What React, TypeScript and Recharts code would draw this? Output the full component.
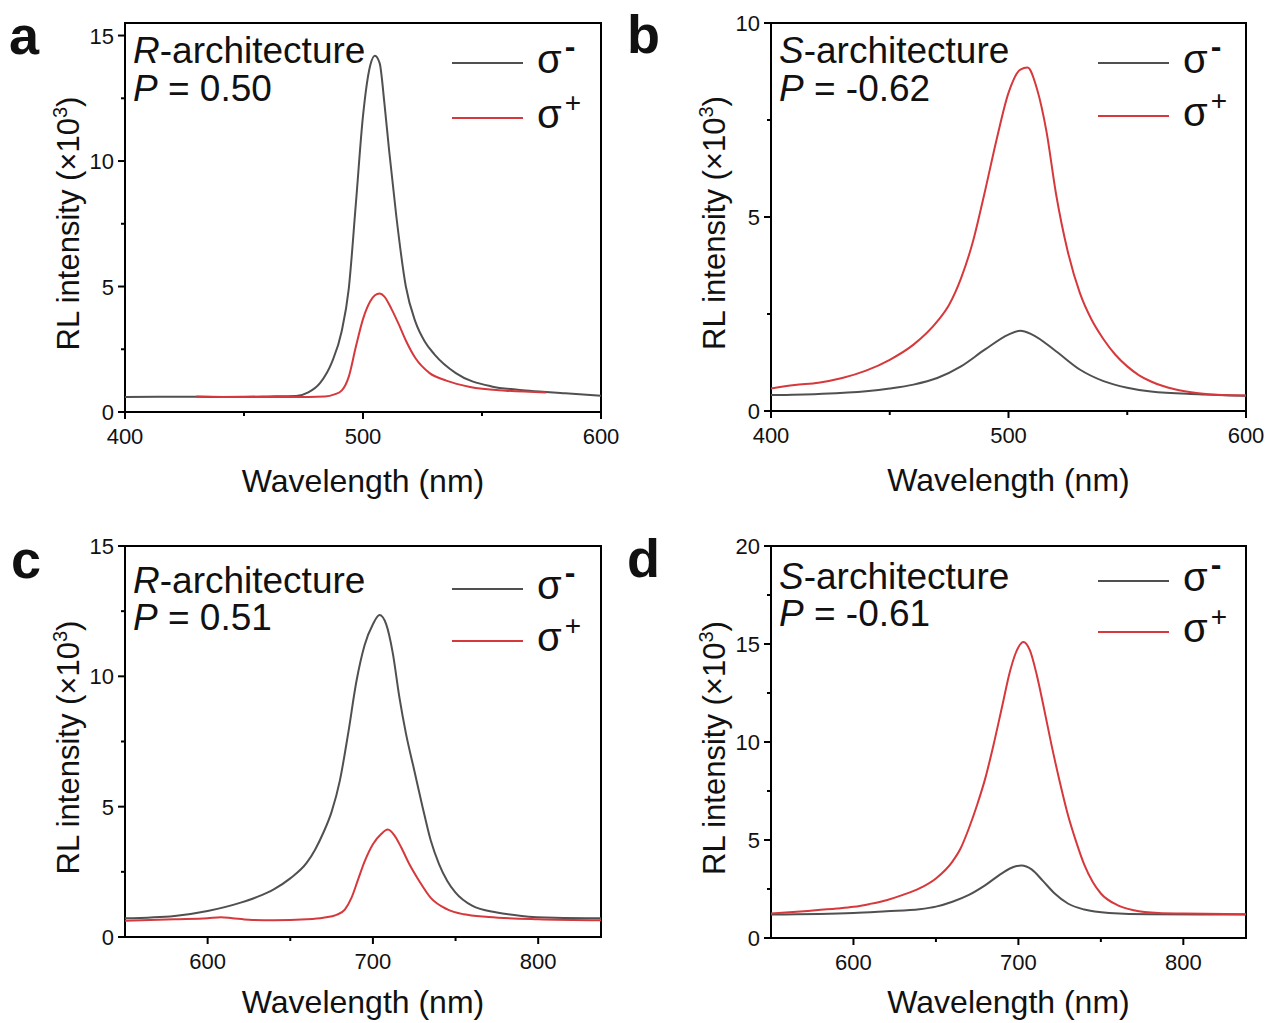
import { Legend, Line, LineChart, ReferenceArea, XAxis, YAxis } from "recharts";

const FONT = '"Liberation Sans", Arial, Helvetica, sans-serif';
const GRAY = "#505050";
const RED = "#d6383b";

// panel a: R-architecture, 400-600 nm
const aMinusWl = [400, 420, 440, 460, 472, 477, 482, 487, 491, 494, 497, 500, 503, 505, 507, 509, 511, 514, 518, 522, 526, 530, 539, 554, 570, 585, 600];
const aMinusInt = [0.6, 0.61, 0.6, 0.62, 0.64, 0.78, 1.16, 2.0, 3.2, 4.9, 8.3, 11.8, 13.8, 14.2, 13.9, 12.3, 10.4, 7.8, 5.0, 3.6, 2.8, 2.3, 1.55, 1.02, 0.85, 0.75, 0.65];
const aPlusWl = [430, 450, 470, 484, 488, 491, 494, 497, 500, 503, 505, 507, 509, 512, 515, 518, 522, 528, 535, 545, 560, 577];
const aPlusInt = [0.62, 0.6, 0.6, 0.62, 0.7, 0.85, 1.4, 2.6, 3.7, 4.4, 4.65, 4.72, 4.6, 4.1, 3.5, 2.85, 2.15, 1.55, 1.25, 1.0, 0.85, 0.78];

// panel b: S-architecture, 400-600 nm
const bMinusWl = [400, 420, 440, 450, 460, 470, 480, 490, 500, 505, 510, 520, 530, 540, 550, 560, 580, 600];
const bMinusInt = [0.41, 0.44, 0.51, 0.58, 0.68, 0.85, 1.15, 1.58, 1.97, 2.07, 1.97, 1.54, 1.07, 0.77, 0.6, 0.5, 0.43, 0.39];
const bPlusWl = [400, 410, 420, 430, 440, 450, 460, 470, 475, 480, 485, 490, 495, 500, 505, 508, 512, 516, 520, 525, 530, 535, 540, 545, 550, 555, 560, 570, 580, 590, 600];
const bPlusInt = [0.58, 0.67, 0.73, 0.85, 1.04, 1.32, 1.71, 2.31, 2.74, 3.42, 4.36, 5.64, 7.0, 8.2, 8.8, 8.85, 8.3, 7.2, 5.6, 4.1, 3.05, 2.35, 1.85, 1.45, 1.15, 0.92, 0.76, 0.56, 0.46, 0.41, 0.4];

// panel c: R-architecture, 550-840 nm
const cMinusWl = [550, 580, 600, 620, 630, 640, 650, 660, 665, 670, 675, 680, 685, 690, 695, 700, 704, 708, 712, 716, 720, 725, 730, 735, 740, 745, 750, 760, 775, 790, 810, 838];
const cMinusInt = [0.72, 0.81, 1.0, 1.32, 1.54, 1.83, 2.25, 2.85, 3.35, 4.0, 4.8, 6.0, 7.8, 9.8, 11.2, 12.0, 12.35, 12.0, 10.9, 9.2, 7.8, 6.4, 5.0, 3.7, 2.8, 2.15, 1.7, 1.2, 0.94, 0.81, 0.74, 0.72];
const cPlusWl = [550, 580, 600, 608, 615, 625, 640, 660, 670, 678, 683, 687, 691, 695, 700, 705, 709, 713, 717, 722, 728, 735, 745, 755, 770, 800, 838];
const cPlusInt = [0.62, 0.68, 0.72, 0.76, 0.72, 0.66, 0.64, 0.68, 0.74, 0.85, 1.05, 1.5, 2.2, 2.9, 3.56, 3.95, 4.12, 3.9, 3.45, 2.8, 2.15, 1.5, 1.06, 0.87, 0.77, 0.68, 0.64];

// panel d: S-architecture, 550-840 nm
const dMinusWl = [550, 600, 620, 640, 650, 660, 670, 680, 690, 697, 702, 708, 715, 722, 730, 740, 755, 780, 838];
const dMinusInt = [1.2, 1.28, 1.37, 1.47, 1.6, 1.85, 2.2, 2.7, 3.3, 3.62, 3.7, 3.5, 2.9, 2.27, 1.76, 1.45, 1.28, 1.21, 1.2];
const dPlusWl = [550, 570, 590, 600, 610, 620, 630, 640, 650, 660, 665, 670, 675, 680, 685, 690, 695, 700, 703, 707, 711, 715, 720, 725, 730, 735, 740, 745, 750, 760, 770, 785, 800, 838];
const dPlusInt = [1.25, 1.37, 1.5, 1.59, 1.74, 1.93, 2.2, 2.53, 3.04, 3.9, 4.58, 5.6, 6.8, 8.17, 9.88, 11.76, 13.64, 14.84, 15.1, 14.67, 13.47, 11.93, 9.88, 8.0, 6.29, 4.92, 3.73, 2.87, 2.27, 1.68, 1.42, 1.28, 1.25, 1.21];

const shortRangeTicks = [400, 450, 500, 550, 600];
const shortRangeMajor = [400, 500, 600];
const longRangeTicks = [600, 650, 700, 750, 800];
const longRangeMajor = [600, 700, 800];
const yTicks15 = [0, 2.5, 5, 7.5, 10, 12.5, 15];
const yTicks10 = [0, 2.5, 5, 7.5, 10];
const yTicks20 = [0, 2.5, 5, 7.5, 10, 12.5, 15, 17.5, 20];
const yMajor = [0, 5, 10, 15, 20];
const legendOrder = ["σ-", "σ+"];

const toPoints = (wl: number[], val: number[]) => wl.map((w, i) => ({ wl: w, intensity: val[i] }));

interface PanelConfig {
  letter: string;
  letterX: number;
  letterY: number;
  arch: string;
  pValue: string;
  ox: number;
  oy: number;
  width: number;
  height: number;
  plotW: number;
  plotH: number;
  xDomain: [number, number];
  xTicks: number[];
  xMajor: number[];
  yMax: number;
  yTicks: number[];
  minus: { wl: number; intensity: number }[];
  plus: { wl: number; intensity: number }[];
  annotY1: number;
  annotY2: number;
  legendTop: number;
  legendRow: number;
  titleGap: number;
}

const PLOT_LEFT = 125;
const PLOT_TOP = 23;
const Y_AXIS_W = 60;
const X_AXIS_H = 40;

const panels: PanelConfig[] = [
  {
    letter: "a", letterX: 9, letterY: 54, arch: "R", pValue: " = 0.50",
    ox: 0, oy: 0, width: 640, height: 510, plotW: 476, plotH: 389,
    xDomain: [400, 600], xTicks: shortRangeTicks, xMajor: shortRangeMajor,
    yMax: 15.5, yTicks: yTicks15,
    minus: toPoints(aMinusWl, aMinusInt), plus: toPoints(aPlusWl, aPlusInt),
    annotY1: 63, annotY2: 101, legendTop: 35, legendRow: 55, titleGap: 80,
  },
  {
    letter: "b", letterX: 627, letterY: 53, arch: "S", pValue: " = -0.62",
    ox: 646, oy: 0, width: 623, height: 510, plotW: 475, plotH: 388,
    xDomain: [400, 600], xTicks: shortRangeTicks, xMajor: shortRangeMajor,
    yMax: 10, yTicks: yTicks10,
    minus: toPoints(bMinusWl, bMinusInt), plus: toPoints(bPlusWl, bPlusInt),
    annotY1: 63, annotY2: 101, legendTop: 36, legendRow: 53, titleGap: 80,
  },
  {
    letter: "c", letterX: 11, letterY: 578, arch: "R", pValue: " = 0.51",
    ox: 0, oy: 523, width: 640, height: 500, plotW: 476, plotH: 391,
    xDomain: [550, 838], xTicks: longRangeTicks, xMajor: longRangeMajor,
    yMax: 15, yTicks: yTicks15,
    minus: toPoints(cMinusWl, cMinusInt), plus: toPoints(cPlusWl, cPlusInt),
    annotY1: 593, annotY2: 630, legendTop: 40, legendRow: 52, titleGap: 76,
  },
  {
    letter: "d", letterX: 627, letterY: 577, arch: "S", pValue: " = -0.61",
    ox: 646, oy: 523, width: 623, height: 500, plotW: 475, plotH: 392,
    xDomain: [550, 838], xTicks: longRangeTicks, xMajor: longRangeMajor,
    yMax: 20, yTicks: yTicks20,
    minus: toPoints(dMinusWl, dMinusInt), plus: toPoints(dPlusWl, dPlusInt),
    annotY1: 589, annotY2: 626, legendTop: 32, legendRow: 51, titleGap: 75,
  },
];

function makeXTick(majors: number[]) {
  return (props: any) => {
    const { x, y, payload } = props;
    const major = majors.includes(payload.value);
    return (
      <g>
        <line x1={x} x2={x} y1={y} y2={y + (major ? 7 : 4)} stroke="#000" strokeWidth={2} />
        {major ? (
          <text x={x} y={y + 32} textAnchor="middle" fontSize={22} fontFamily={FONT} fill="#111">
            {payload.value}
          </text>
        ) : null}
      </g>
    );
  };
}

function makeYTick(majors: number[]) {
  return (props: any) => {
    const { x, y, payload } = props;
    const major = majors.includes(payload.value);
    return (
      <g>
        <line x1={x} x2={x - (major ? 7 : 4)} y1={y} y2={y} stroke="#000" strokeWidth={2} />
        {major ? (
          <text x={x - 11} y={y + 8} textAnchor="end" fontSize={22} fontFamily={FONT} fill="#111">
            {payload.value}
          </text>
        ) : null}
      </g>
    );
  };
}

function SigmaLegend({ payload, row }: any) {
  const items = [...(payload || [])].sort(
    (m: any, n: any) => legendOrder.indexOf(String(m.value)) - legendOrder.indexOf(String(n.value))
  );
  return (
    <div>
      {items.map((entry: any, i: number) => {
        const name = String(entry.value);
        const sign = name.slice(1);
        return (
          <div key={i} style={{ display: "flex", alignItems: "center", height: row }}>
            <div style={{ width: 71, borderTop: `2px solid ${entry.color}` }} />
            <span style={{ marginLeft: 14, fontSize: 40, fontFamily: FONT, lineHeight: 1, position: "relative", top: -4, color: "#111" }}>
              {name.charAt(0)}
              <span
                style={{
                  fontSize: sign === "-" ? 32 : 28,
                  fontWeight: sign === "-" ? "bold" : "normal",
                  position: "relative",
                  top: -16,
                  marginLeft: 3,
                }}
              >
                {sign}
              </span>
            </span>
          </div>
        );
      })}
    </div>
  );
}

function Panel({ p }: { p: PanelConfig }) {
  const bottom = p.height - PLOT_TOP - p.plotH - X_AXIS_H;
  const right = p.width - PLOT_LEFT - p.plotW;
  return (
    <div style={{ position: "absolute", left: p.ox, top: p.oy }}>
      <LineChart
        width={p.width}
        height={p.height}
        margin={{ top: PLOT_TOP, right, left: PLOT_LEFT - Y_AXIS_W, bottom }}
      >
        <XAxis
          dataKey="wl"
          type="number"
          domain={p.xDomain}
          ticks={p.xTicks}
          interval={0}
          allowDataOverflow
          axisLine={false}
          tickLine={false}
          tickSize={0}
          tickMargin={0}
          height={X_AXIS_H}
          tick={makeXTick(p.xMajor)}
        />
        <YAxis
          type="number"
          domain={[0, p.yMax]}
          ticks={p.yTicks}
          interval={0}
          allowDataOverflow
          axisLine={false}
          tickLine={false}
          tickSize={0}
          tickMargin={0}
          width={Y_AXIS_W}
          tick={makeYTick(yMajor)}
        />
        <ReferenceArea
          x1={p.xDomain[0]}
          x2={p.xDomain[1]}
          y1={0}
          y2={p.yMax}
          fill="none"
          stroke="#000"
          strokeWidth={2}
          ifOverflow="visible"
        />
        <Line
          data={p.minus}
          dataKey="intensity"
          name="σ-"
          type="monotone"
          stroke={GRAY}
          strokeWidth={2}
          dot={false}
          isAnimationActive={false}
        />
        <Line
          data={p.plus}
          dataKey="intensity"
          name="σ+"
          type="monotone"
          stroke={RED}
          strokeWidth={2}
          dot={false}
          isAnimationActive={false}
        />
        <Legend
          layout="vertical"
          align="center"
          verticalAlign="middle"
          wrapperStyle={{ left: 452, top: p.legendTop, width: 160 }}
          content={(props: any) => <SigmaLegend {...props} row={p.legendRow} />}
        />
      </LineChart>
    </div>
  );
}

export default function App() {
  return (
    <div style={{ position: "absolute", left: 0, top: 0, width: 1269, height: 1023, background: "#fff", fontFamily: FONT }}>
      {panels.map((p) => (
        <Panel key={p.letter} p={p} />
      ))}
      <svg width={1269} height={1023} style={{ position: "absolute", left: 0, top: 0, pointerEvents: "none" }}>
        {panels.map((p) => {
          const plotLeft = p.ox + PLOT_LEFT;
          const plotTop = p.oy + PLOT_TOP;
          const plotBottom = plotTop + p.plotH;
          const midX = plotLeft + p.plotW / 2;
          const midY = plotTop + p.plotH / 2 + 6;
          return (
            <g key={p.letter} fontFamily={FONT} fill="#111">
              <text x={p.letterX} y={p.letterY} fontSize={54} fontWeight="bold">{p.letter}</text>
              <text x={plotLeft + 8} y={p.annotY1} fontSize={37}>
                <tspan fontStyle="italic">{p.arch}</tspan>-architecture
              </text>
              <text x={plotLeft + 8} y={p.annotY2} fontSize={37}>
                <tspan fontStyle="italic">P</tspan>{p.pValue}
              </text>
              <text x={midX} y={plotBottom + p.titleGap} fontSize={32} textAnchor="middle">Wavelength (nm)</text>
              <text
                x={plotLeft - 46}
                y={midY}
                fontSize={31}
                textAnchor="middle"
                transform={`rotate(-90 ${plotLeft - 46} ${midY})`}
              >
                RL intensity (×10<tspan fontSize={20} dy={-12}>3</tspan><tspan dy={12}>)</tspan>
              </text>
            </g>
          );
        })}
      </svg>
    </div>
  );
}
